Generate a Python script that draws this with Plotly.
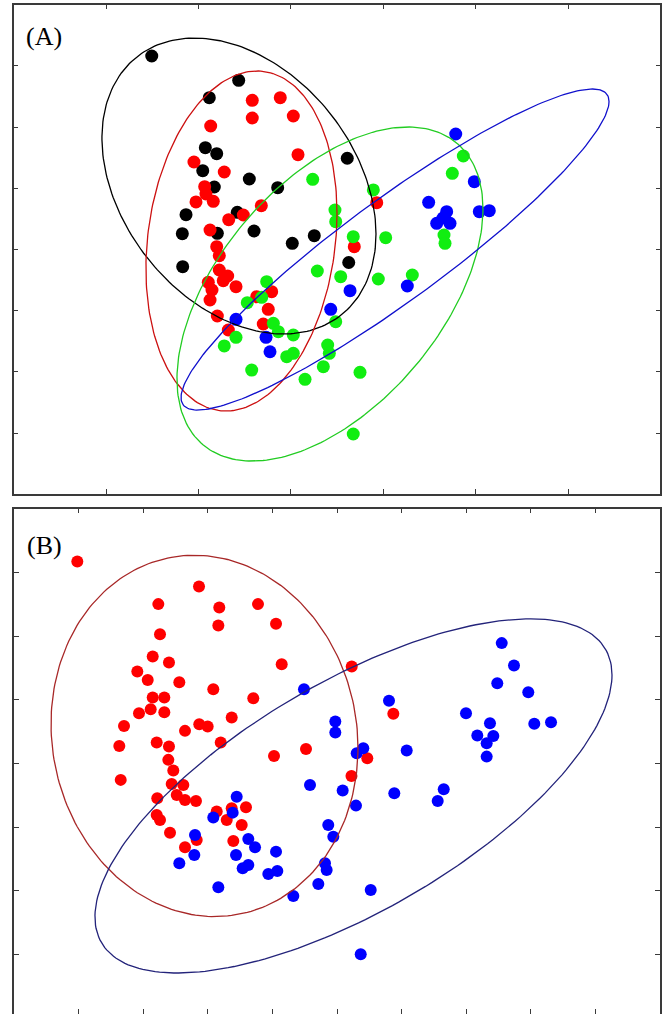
import numpy as np
import plotly.graph_objects as go

# ---------------- Panel A data ----------------
a_black_x = [1.495, 2.436, 2.118, 2.075, 2.198, 2.047, 2.551, 2.858, 2.172, 1.866, 2.421, 1.826, 2.205, 2.602, 3.016, 3.254, 1.830, 3.627, 3.611]
a_black_y = [7.160, 6.763, 6.479, 5.662, 5.564, 5.286, 5.150, 5.008, 5.020, 4.567, 4.606, 4.257, 4.263, 4.301, 4.100, 4.224, 3.717, 3.786, 5.489]

a_red_x = [2.583, 2.886, 2.583, 3.027, 2.133, 3.078, 1.952, 2.280, 2.068, 1.974, 2.161, 2.082, 2.681, 2.486, 2.328, 2.126, 2.198,
           2.226, 2.226, 2.107, 2.269, 2.407, 2.317, 2.126, 2.205, 2.324, 2.793, 2.631, 2.756, 2.702, 3.687, 3.930, 2.147]
a_red_y = [6.436, 6.479, 6.147, 6.180, 6.016, 5.547, 5.428, 5.265, 5.025, 4.775, 4.786, 4.905, 4.714, 4.562, 4.485, 4.317, 4.044,
           3.897, 3.663, 3.462, 3.489, 3.391, 3.565, 3.173, 2.912, 2.683, 3.309, 3.227, 3.021, 2.781, 4.044, 4.763, 3.337]

a_green_x = [3.237, 3.893, 3.478, 3.486, 3.676, 4.027, 4.867, 4.748, 4.658, 4.669, 3.287, 3.540, 3.947, 4.315, 2.739, 2.685,
             2.529, 2.811, 2.865, 3.027, 2.407, 2.280, 2.956, 3.027, 2.577, 3.154, 3.486, 3.399, 3.417, 3.352, 3.749, 3.676]
a_green_y = [5.145, 4.971, 4.644, 4.453, 4.208, 4.191, 5.526, 5.243, 4.235, 4.100, 3.647, 3.554, 3.516, 3.582, 3.472, 3.217,
             3.129, 2.792, 2.655, 2.601, 2.564, 2.422, 2.247, 2.302, 2.029, 1.877, 2.819, 2.438, 2.302, 2.083, 1.992, 0.984]

a_blue_x = [4.785, 4.986, 4.492, 4.687, 4.579, 4.723, 5.040, 5.148, 3.641, 4.261, 3.432, 2.407, 2.732, 2.775, 4.647]
a_blue_y = [5.886, 5.106, 4.770, 4.616, 4.426, 4.426, 4.616, 4.632, 3.325, 3.402, 3.021, 2.858, 2.564, 2.328, 4.513]

# ellipse parameters: centre x, centre y, half-width, half-height, y-offset of rightmost point
a_ell_black = [2.439, 5.036, 1.483, 2.418, -0.784]
a_ell_red = [2.466, 4.137, 1.034, 2.778, 0.451]
a_ell_green = [3.424, 3.271, 1.656, 2.729, 1.389]
a_ell_blue = [4.128, 3.998, 2.316, 2.623, 2.418]

# ---------------- Panel B data ----------------
b_red_x = [0.980, 2.864, 2.234, 3.178, 3.777, 3.163, 4.056, 2.260, 2.147, 2.399, 4.144, 1.909, 2.070, 2.559, 3.085, 3.704,
           2.147, 2.327, 2.116, 2.327, 1.935, 3.370, 1.703, 2.647, 2.868, 2.998, 3.200, 1.630, 2.209, 2.399, 5.228, 5.872,
           2.389, 2.466, 1.652, 2.441, 2.621, 2.218, 2.519, 2.647, 2.817, 2.209, 2.260, 2.415, 2.647, 2.828, 3.138, 3.293,
           3.370, 3.591, 3.525, 3.395, 4.025, 4.520, 5.224, 5.469]
b_red_y = [7.170, 6.777, 6.501, 6.447, 6.501, 6.165, 6.192, 6.030, 5.678, 5.584, 5.559, 5.443, 5.312, 5.276, 5.166, 5.025,
           5.035, 5.035, 4.852, 4.805, 4.790, 4.721, 4.590, 4.512, 4.617, 4.579, 4.328, 4.276, 4.328, 4.265, 5.521, 4.779,
           4.057, 3.889, 3.743, 3.680, 3.664, 3.455, 3.507, 3.429, 3.413, 3.193, 3.115, 2.915, 2.686, 2.801, 3.245, 3.115,
           3.298, 3.314, 3.036, 2.785, 4.119, 4.229, 3.805, 4.083]

b_blue_x = [3.447, 3.385, 3.085, 2.802, 2.791, 2.559, 3.627, 3.731, 3.437, 4.056, 3.627, 3.540, 3.937, 4.076, 3.163, 4.324,
            4.711, 4.582, 5.088, 4.865, 4.943, 4.814, 4.840, 7.550, 7.740, 7.481, 7.961, 6.997, 7.368, 7.172, 7.420, 7.317,
            7.317, 8.054, 8.313, 4.489, 5.805, 4.974, 4.974, 5.407, 5.305, 6.079, 5.294, 5.887, 6.652, 6.559, 5.522, 5.367]
b_blue_y = [3.480, 3.229, 3.151, 2.879, 2.565, 2.435, 2.816, 2.686, 2.565, 2.617, 2.408, 2.356, 2.267, 2.314, 2.058, 1.922,
            2.110, 3.664, 3.575, 3.036, 2.852, 2.435, 2.330, 5.889, 5.537, 5.261, 5.119, 4.790, 4.633, 4.438, 4.433, 4.319,
            4.108, 4.622, 4.648, 5.166, 4.983, 4.658, 4.485, 4.240, 4.162, 4.203, 3.339, 3.534, 3.597, 3.413, 2.016, 1.006]

b_ell_red = [2.949, 4.433, 2.376, 2.835, -0.188]
b_ell_blue = [5.255, 3.491, 4.002, 2.779, 1.898]


def ellipse(p, n=240):
    cx, cy, w, h, dr = p
    t = np.linspace(0, 2 * np.pi, n)
    s = np.sqrt(max(h * h - dr * dr, 0.0))
    return cx + w * np.cos(t), cy + dr * np.cos(t) + s * np.sin(t)


fig = go.Figure()


def pts(x, y, color, ax, size):
    fig.add_trace(go.Scatter(x=x, y=y, mode="markers", xaxis=ax[0], yaxis=ax[1],
                             marker=dict(color=color, size=size, line=dict(width=0)),
                             showlegend=False, hoverinfo="skip"))


def ell(p, color, ax):
    ex, ey = ellipse(p)
    fig.add_trace(go.Scatter(x=ex, y=ey, mode="lines", xaxis=ax[0], yaxis=ax[1],
                             line=dict(color=color, width=1.3), showlegend=False, hoverinfo="skip"))


A = ("x", "y")
B = ("x2", "y2")
pts(a_black_x, a_black_y, "#000000", A, 13)
pts(a_red_x, a_red_y, "#ff0000", A, 13)
pts(a_green_x, a_green_y, "#11ee11", A, 13)
pts(a_blue_x, a_blue_y, "#0000ff", A, 13)
ell(a_ell_black, "#000000", A)
ell(a_ell_red, "#cc1111", A)
ell(a_ell_green, "#22cc22", A)
ell(a_ell_blue, "#1010cc", A)

pts(b_red_x, b_red_y, "#ff0000", B, 12)
pts(b_blue_x, b_blue_y, "#0000ff", B, 12)
ell(b_ell_red, "#a82828", B)
ell(b_ell_blue, "#23237a", B)

axis_style = dict(showline=True, mirror="ticks", linecolor="#3a3a3a", linewidth=1.6,
                  ticks="inside", ticklen=5, tickwidth=1.2, tickcolor="#3a3a3a",
                  showticklabels=False, showgrid=False, zeroline=False, fixedrange=True)

W, H = 663, 1014
fig.update_layout(
    width=W, height=H,
    margin=dict(l=0, r=0, t=0, b=0),
    paper_bgcolor="white", plot_bgcolor="white",
    xaxis=dict(domain=[13.6 / W, 660.4 / W], range=[0, 7], tickvals=[1, 2, 3, 4, 5, 6], **axis_style),
    yaxis=dict(domain=[1 - 494.2 / H, 1 - 4.6 / H], range=[0, 8], tickvals=[1, 2, 3, 4, 5, 6, 7], **axis_style),
    xaxis2=dict(domain=[14 / W, 660 / W], range=[0, 10], tickvals=list(range(1, 10)), anchor="y2", **axis_style),
    yaxis2=dict(domain=[0, 1 - 508.6 / H], range=[0.069, 8], tickvals=list(range(1, 8)), anchor="x2", **axis_style),
    annotations=[
        dict(text="(A)", x=44 / W, y=1 - 37 / H, xref="paper", yref="paper", showarrow=False,
             xanchor="center", yanchor="middle", font=dict(family="Liberation Serif", size=26, color="#000")),
        dict(text="(B)", x=44 / W, y=1 - 545 / H, xref="paper", yref="paper", showarrow=False,
             xanchor="center", yanchor="middle", font=dict(family="Liberation Serif", size=26, color="#000")),
    ],
)

fig.write_html("out.html", config={"displayModeBar": False},
               post_script="document.body.style.margin='0';document.body.style.overflow='hidden';")
